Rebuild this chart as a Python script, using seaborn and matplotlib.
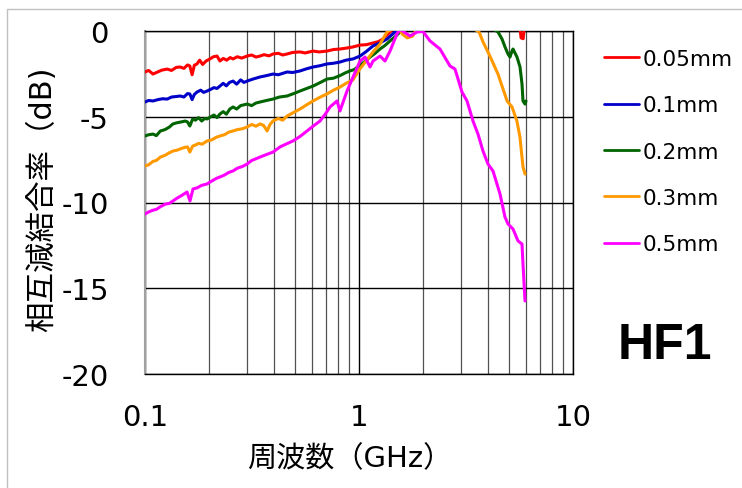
import matplotlib
matplotlib.use("Agg")
import matplotlib.pyplot as plt
import matplotlib.patches as mpatches
from matplotlib.ticker import FixedLocator, FixedFormatter, NullFormatter
import seaborn as sns
import pandas as pd

# ---------------- data ----------------
sizes = ["0.05mm", "0.1mm", "0.2mm", "0.3mm", "0.5mm"]
colors = ["#ff0000", "#0000c8", "#006400", "#ff9900", "#ff00ff"]

f_005 = [0.100, 0.104, 0.109, 0.114, 0.120, 0.127, 0.133, 0.140, 0.146, 0.152,
         0.158, 0.162, 0.166, 0.170, 0.175, 0.180, 0.186, 0.193, 0.201, 0.209,
         0.217, 0.224, 0.232, 0.241, 0.250, 0.258, 0.270, 0.283, 0.300, 0.315,
         0.330, 0.345, 0.360, 0.380, 0.396, 0.420, 0.440, 0.461, 0.490, 0.530,
         0.560, 0.610, 0.650, 0.709, 0.760, 0.815, 0.870, 0.937, 1.011, 1.08,
         1.163, 1.23, 1.294, 1.396, 1.5, 2.0, 3.0, 4.0, 5.0, 5.65,
         5.72, 5.85, 5.92]
db_005 = [-2.39, -2.30, -2.51, -2.40, -2.28, -2.22, -2.30, -2.12, -2.10, -2.18,
          -1.98, -2.04, -2.55, -2.00, -1.92, -1.70, -1.95, -1.75, -1.63, -1.50,
          -1.46, -1.75, -1.60, -1.70, -1.55, -1.63, -1.50, -1.58, -1.46, -1.40,
          -1.52, -1.46, -1.38, -1.45, -1.34, -1.30, -1.40, -1.34, -1.25, -1.22,
          -1.28, -1.17, -1.22, -1.17, -1.08, -1.05, -1.00, -0.93, -0.82, -0.80,
          -0.70, -0.62, -0.47, -0.06, 0.4, 0.8, 0.8, 0.7, 0.5, 0.2,
          -0.40, -0.45, 0.2]

f_01 = [0.100, 0.104, 0.109, 0.115, 0.121, 0.127, 0.133, 0.140, 0.146, 0.152,
        0.158, 0.162, 0.166, 0.170, 0.175, 0.182, 0.188, 0.195, 0.203, 0.210,
        0.217, 0.224, 0.232, 0.240, 0.248, 0.258, 0.268, 0.280, 0.290, 0.300,
        0.320, 0.345, 0.370, 0.396, 0.420, 0.461, 0.490, 0.530, 0.570, 0.610,
        0.660, 0.709, 0.760, 0.815, 0.870, 0.937, 1.011, 1.08, 1.163, 1.25,
        1.351, 1.473, 2.0, 3.0, 4.0, 5.0, 6.0]
db_01 = [-4.14, -4.05, -4.08, -4.00, -3.95, -3.97, -3.85, -3.82, -3.79, -3.85,
         -3.65, -3.67, -4.00, -3.70, -3.56, -3.45, -3.58, -3.50, -3.40, -3.30,
         -3.35, -3.21, -3.05, -3.20, -3.00, -2.92, -3.10, -2.85, -3.00, -2.92,
         -2.80, -2.68, -2.60, -2.51, -2.55, -2.39, -2.42, -2.33, -2.20, -2.10,
         -2.02, -1.92, -1.88, -1.81, -1.70, -1.63, -1.46, -1.20, -0.87, -0.70,
         -0.47, -0.06, 0.8, 1.0, 0.9, 0.7, 0.5]

f_02 = [0.100, 0.104, 0.109, 0.113, 0.118, 0.124, 0.130, 0.135, 0.141, 0.148,
        0.154, 0.158, 0.162, 0.167, 0.172, 0.178, 0.184, 0.190, 0.195, 0.203,
        0.210, 0.217, 0.224, 0.232, 0.240, 0.249, 0.258, 0.268, 0.280, 0.300,
        0.315, 0.330, 0.345, 0.370, 0.396, 0.425, 0.461, 0.495, 0.530, 0.570,
        0.610, 0.660, 0.709, 0.760, 0.815, 0.860, 0.906, 0.950, 1.0, 1.06,
        1.126, 1.19, 1.254, 1.32, 1.396, 1.47, 1.554, 2.0, 3.0, 4.0,
        4.464, 4.660, 4.811, 4.969, 5.077, 5.188, 5.245, 5.475, 5.655, 5.777,
        5.839, 5.967, 6.03]
db_02 = [-6.12, -6.05, -6.01, -6.10, -5.83, -5.75, -5.60, -5.42, -5.35, -5.30,
         -5.25, -5.30, -5.54, -5.13, -5.20, -5.05, -5.25, -5.10, -5.13, -5.00,
         -4.90, -5.05, -4.84, -4.70, -4.85, -4.55, -4.43, -4.55, -4.35, -4.26,
         -4.35, -4.20, -4.14, -4.05, -3.97, -3.85, -3.79, -3.65, -3.50, -3.35,
         -3.21, -3.00, -2.80, -2.75, -2.60, -2.45, -2.33, -2.25, -2.04, -1.80,
         -1.52, -1.30, -1.05, -0.85, -0.58, -0.35, -0.06, 0.6, 0.8, 0.3,
         -0.06, -0.47, -0.93, -1.34, -1.52, -1.17, -1.05, -1.52, -2.10, -3.09,
         -4.08, -4.26, -4.08]

f_03 = [0.100, 0.104, 0.109, 0.113, 0.118, 0.124, 0.130, 0.135, 0.141, 0.148,
        0.154, 0.158, 0.162, 0.167, 0.172, 0.178, 0.185, 0.195, 0.205, 0.215,
        0.224, 0.235, 0.246, 0.258, 0.270, 0.285, 0.300, 0.315, 0.330, 0.345,
        0.358, 0.372, 0.384, 0.396, 0.420, 0.440, 0.461, 0.495, 0.530, 0.570,
        0.610, 0.660, 0.709, 0.760, 0.815, 0.870, 0.937, 1.011, 1.163, 1.254,
        1.351, 1.5, 1.6, 1.68, 1.78, 1.9, 2.5, 3.0, 3.64, 3.80,
        4.09, 4.46, 4.92, 5.19, 5.47, 5.65, 5.84, 5.97]
db_03 = [-7.87, -7.80, -7.60, -7.55, -7.35, -7.25, -7.10, -7.00, -6.95, -6.85,
         -6.78, -6.76, -7.06, -6.71, -6.65, -6.55, -6.60, -6.41, -6.35, -6.20,
         -6.12, -6.05, -5.90, -5.83, -5.75, -5.70, -5.60, -5.45, -5.55, -5.42,
         -5.50, -5.83, -5.45, -5.25, -5.10, -5.20, -4.96, -4.75, -4.55, -4.30,
         -4.08, -3.85, -3.67, -3.45, -3.27, -3.05, -2.85, -2.20, -1.22, -0.76,
         -0.06, 0.3, -0.2, -0.4, -0.3, 0.3, 0.8, 0.6, -0.06, -0.64,
         -1.46, -2.51, -4.08, -4.43, -5.25, -6.18, -7.93, -8.34]

f_05 = [0.100, 0.104, 0.109, 0.113, 0.1175, 0.124, 0.130, 0.1351, 0.141, 0.148,
        0.1572, 0.1623, 0.1676, 0.175, 0.184, 0.1948, 0.205, 0.215, 0.2241, 0.235,
        0.246, 0.2578, 0.270, 0.285, 0.2997, 0.315, 0.330, 0.3446, 0.370, 0.3964,
        0.4274, 0.455, 0.4916, 0.530, 0.5715, 0.610, 0.6573, 0.700, 0.7319, 0.7894,
        0.8151, 0.8789, 1.011, 1.067, 1.126, 1.163, 1.254, 1.323, 1.396, 1.505,
        1.554, 1.731, 1.866, 1.991, 2.147, 2.390, 2.662, 2.810, 3.029, 3.197,
        3.410, 3.598, 3.797, 4.008, 4.228, 4.559, 4.811, 4.969, 5.245, 5.534,
        5.777, 5.839, 5.967]
db_05 = [-10.67, -10.55, -10.45, -10.40, -10.26, -10.10, -10.05, -9.91, -9.75, -9.60,
         -9.39, -9.91, -9.21, -9.15, -9.00, -8.92, -8.75, -8.60, -8.51, -8.40,
         -8.25, -8.16, -8.00, -7.90, -7.76, -7.55, -7.45, -7.35, -7.20, -7.06,
         -6.76, -6.60, -6.41, -6.15, -5.83, -5.55, -5.25, -4.80, -4.43, -4.08,
         -4.66, -3.50, -1.75, -1.52, -2.10, -1.75, -1.46, -1.75, -1.17, -0.17,
         0.1, -0.29, -0.06, -0.03, -0.58, -1.05, -2.04, -2.22, -3.56, -4.08,
         -5.25, -6.01, -7.00, -7.76, -8.16, -9.50, -10.85, -11.25, -11.55, -12.24,
         -12.42, -13.59, -15.74]

x_ticks = [0.1, 1, 10]
x_tick_labels = ["0.1", "1", "10"]
y_ticks = [0, -5, -10, -15, -20]
y_tick_labels = ["0", "-5", "-10", "-15", "-20"]

# ---------------- build long table ----------------
series = [(f_005, db_005), (f_01, db_01), (f_02, db_02), (f_03, db_03), (f_05, db_05)]
rows = []
for name, (fs, ds) in zip(sizes, series):
    for f, d in zip(fs, ds):
        rows.append({"freq": f, "db": d, "size": name})
df = pd.DataFrame(rows)

# ---------------- figure ----------------
sns.set_style("white")
plt.rcParams["font.family"] = ["DejaVu Sans", "Noto Sans CJK JP"]
plt.rcParams["axes.unicode_minus"] = False
plt.rcParams["text.color"] = "black"
plt.rcParams["axes.labelcolor"] = "black"

W, H = 742, 489
fig = plt.figure(figsize=(W / 100, H / 100), dpi=100)
ax = fig.add_axes([145 / W, 1 - 375 / H, (573 - 145) / W, (375 - 32) / H])

sns.lineplot(data=df, x="freq", y="db", hue="size", hue_order=sizes,
             palette=colors, estimator=None, sort=False, linewidth=2.2,
             ax=ax, legend=True, zorder=3)

ax.set_xscale("log")
ax.set_xlim(0.1, 10)
ax.set_ylim(-20, 0)

ax.xaxis.set_major_locator(FixedLocator(x_ticks))
ax.xaxis.set_major_formatter(FixedFormatter(x_tick_labels))
minor = [m * 10.0 ** e for e in (-1, 0) for m in range(2, 10)]
ax.xaxis.set_minor_locator(FixedLocator(minor))
ax.xaxis.set_minor_formatter(NullFormatter())
ax.yaxis.set_major_locator(FixedLocator(y_ticks))
ax.yaxis.set_major_formatter(FixedFormatter(y_tick_labels))

ax.grid(True, which="major", axis="both", color="black", linewidth=1.0, zorder=1)
ax.grid(True, which="minor", axis="x", color="#505050", linewidth=0.9, zorder=1)
ax.set_axisbelow(True)

ax.tick_params(axis="both", which="both", length=0, labelsize=21,
               colors="black", labelcolor="black")
ax.tick_params(axis="y", pad=26)
ax.tick_params(axis="x", pad=21)

for side in ("top", "right", "bottom"):
    ax.spines[side].set_visible(True)
    ax.spines[side].set_color("black")
    ax.spines[side].set_linewidth(1.0)
ax.spines["left"].set_color("#a0a0a0")
ax.spines["left"].set_linewidth(1.5)

ax.set_xlabel("周波数（GHz）", fontsize=21, color="black",
              family=["DejaVu Sans", "Noto Sans CJK JP"])
ax.set_ylabel("相互減結合率（dB)", fontsize=22, color="black",
              family=["DejaVu Sans", "Noto Sans CJK JP"])
ax.xaxis.set_label_coords((350 - 145) / 428, (375 - 445) / 343)
ax.yaxis.set_label_coords((57 - 145) / 428, (375 - 199) / 343)

leg = ax.legend(loc="upper left", bbox_to_anchor=(604 / W, 1 - 50 / H),
                bbox_transform=fig.transFigure, frameon=False, fontsize=15.5,
                handlelength=1.63, handletextpad=0.15, labelspacing=1.22,
                borderaxespad=0, borderpad=0)
for line in leg.get_lines():
    line.set_linewidth(2.0)
for t in leg.get_texts():
    t.set_color("black")

fig.text(665 / W, 1 - 346 / H, "HF1", fontsize=36, fontweight="bold",
         family="Liberation Sans", ha="center", va="center", color="black")

fig.patches.append(mpatches.Rectangle((6.5 / W, -0.05), 1.2, 1 + 0.05 - 9.5 / H,
                                      transform=fig.transFigure, fill=False,
                                      edgecolor="#c0c0c0", linewidth=1.0))

fig.savefig("out.png", dpi=100)
